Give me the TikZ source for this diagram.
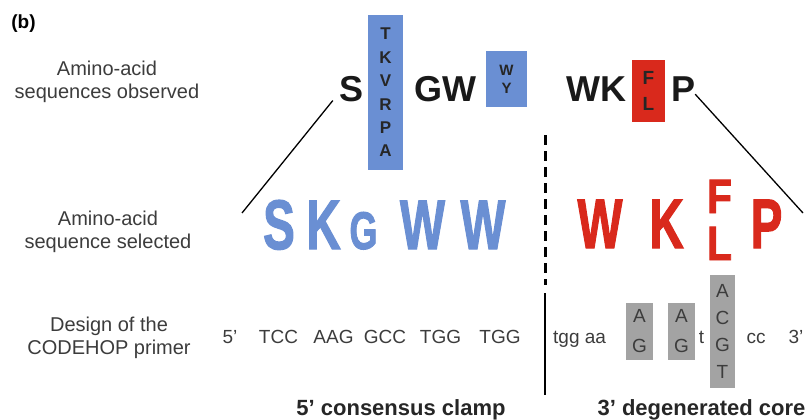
\documentclass[tikz,border=0pt]{standalone}
\usepackage{fontspec}
\setmainfont{Liberation Sans}
\newfontfamily\heavyfont[FakeBold=2]{Liberation Sans Bold}
\usepackage{xcolor}
\definecolor{aablue}{HTML}{6A8FD3}
\definecolor{aared}{HTML}{D9291C}
\definecolor{ntgray}{HTML}{A3A3A3}
\definecolor{labelgray}{HTML}{3C3C3C}

\begin{document}
\begin{tikzpicture}[x=1pt, y=-1pt,
  rowlabel/.style={align=center, inner sep=0pt, text=labelgray,
                   font=\fontsize{20}{23}\selectfont},
  obsaa/.style={anchor=base, inner sep=0pt, text=black!90,
                font=\fontsize{36}{36}\selectfont\bfseries},
  selaa/.style={anchor=base, inner sep=0pt, xscale=0.68,
                font=\fontsize{70}{70}\selectfont\heavyfont},
  varbox/.style={inner sep=0pt, align=center, text=black!85},
  dna/.style={anchor=base, inner sep=0pt, text=labelgray,
              font=\fontsize{19}{19}\selectfont},
  dnabox/.style={fill=ntgray, inner sep=0pt, align=center, text=labelgray},
  partlabel/.style={inner sep=0pt, text=black!85,
                    font=\fontsize{22}{22}\selectfont\bfseries},
  link/.style={line width=1.3pt},
]
  \useasboundingbox (0,0) rectangle (809,420);
  % Panel tag
  \node[inner sep=0pt, font=\fontsize{19}{19}\selectfont\bfseries] (tag)
    at (23.5,24) {(b)};
  % Row labels
  \node[rowlabel] (lobs) at (107,82) {Amino-acid\\sequences observed};
  \node[rowlabel] (lsel) at (108,232) {Amino-acid\\sequence selected};
  \node[rowlabel] (ldes) at (109,338) {Design of the\\CODEHOP primer};
  % Observed sequences
  \node[obsaa] (obsS) at (352,101) {S};
  \node[varbox, fill=aablue, minimum width=35, minimum height=155,
        font=\fontsize{17}{23.4}\selectfont\bfseries] (varK) at (385.5,92.5)
    {T\\K\\V\\R\\P\\A};
  \node[obsaa] (obsGW) at (445,101) {GW};
  \node[varbox, fill=aablue, minimum width=41, minimum height=56,
        font=\fontsize{15}{18}\selectfont\bfseries] (varW) at (506.5,79)
    {W\\Y};
  \node[obsaa] (obsWK) at (596,101) {WK};
  \node[varbox, fill=aared, minimum width=33, minimum height=62,
        font=\fontsize{19}{26}\selectfont\bfseries] (varF) at (648.5,91)
    {F\\L};
  \node[obsaa] (obsP) at (683,101) {P};
  % Selected sequence
  \node[selaa, text=aablue] (selS) at (279,249) {S};
  \node[selaa, text=aablue] (selK) at (323.5,249) {K};
  \node[selaa, text=aablue, font=\fontsize{53}{53}\selectfont\heavyfont]
    (selG) at (363.5,249) {G};
  \node[selaa, text=aablue] (selW1) at (422.5,249) {W};
  \node[selaa, text=aablue] (selW2) at (483,249) {W};
  \node[selaa, text=aared] (selW3) at (600,248) {W};
  \node[selaa, text=aared] (selK2) at (666.5,248) {K};
  \node[selaa, text=aared, xscale=1.25,
        font=\fontsize{48}{48}\selectfont\heavyfont] (selF) at (719.5,213) {F};
  \node[selaa, text=aared, xscale=1.25,
        font=\fontsize{48}{48}\selectfont\heavyfont] (selL) at (719.5,260) {L};
  \node[selaa, text=aared] (selP) at (766.5,248) {P};
  % Primer
  \node[dna] (p5) at (230,343) {5'};
  \node[dna] (c1) at (278.5,343) {TCC};
  \node[dna] (c2) at (333.5,343) {AAG};
  \node[dna] (c3) at (385,343) {GCC};
  \node[dna] (c4) at (440.5,343) {TGG};
  \node[dna] (c5) at (500,343) {TGG};
  \node[dna, anchor=base west] (d1) at (553,343) {tgg aa};
  \node[dnabox, minimum width=27, minimum height=57,
        font=\fontsize{19}{30}\selectfont] (degA) at (639.5,331.5) {A\\G};
  \node[dnabox, minimum width=27, minimum height=57,
        font=\fontsize{19}{30}\selectfont] (degB) at (681.5,331.5) {A\\G};
  \node[dna] (d2) at (701.5,343) {t};
  \node[dnabox, minimum width=25, minimum height=113,
        font=\fontsize{19}{27}\selectfont] (degC) at (722.5,331.5)
    {A\\C\\G\\T};
  \node[dna] (d3) at (756,343) {cc};
  \node[dna] (p3) at (796,343) {3'};
  % Part labels
  \node[partlabel, anchor=base] (clamp) at (401,415) {5' consensus clamp};
  \node[partlabel, anchor=base] (core) at (701.5,415) {3' degenerated core};
  % Links and dividers
  \coordinate (lfoot) at (242,213);
  \coordinate (rfoot) at (803,213);
  \coordinate (dtop) at (545,135);
  \coordinate (dbot) at (545,285);
  \coordinate (stop) at (545,293);
  \coordinate (sbot) at (545,395);
  \draw[link] ([xshift=-7pt,yshift=1pt]obsS.south west) -- (lfoot);
  \draw[link] ([yshift=7pt]obsP.south east) -- (rfoot);
  \draw[line width=3pt, dash pattern=on 10pt off 6pt] (dtop) -- (dbot);
  \draw[line width=2.5pt] (stop) -- (sbot);
\end{tikzpicture}
\end{document}
